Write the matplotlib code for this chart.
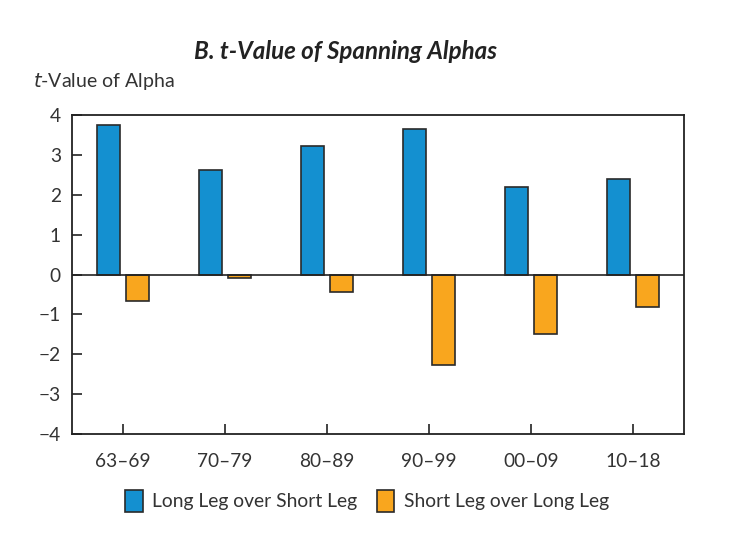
import numpy as np
import matplotlib
matplotlib.use("Agg")
import matplotlib.pyplot as plt

periods = ["63–69", "70–79", "80–89", "90–99", "00–09", "10–18"]
long_over_short = [3.76, 2.62, 3.23, 3.65, 2.20, 2.40]
short_over_long = [-0.67, -0.10, -0.44, -2.27, -1.48, -0.81]
series_names = ["Long Leg over Short Leg", "Short Leg over Long Leg"]
y_ticks = [-4, -3, -2, -1, 0, 1, 2, 3, 4]

blue = "#1490d0"
orange = "#f9a61e"
edge = "#2a2a2a"

plt.rcParams["font.family"] = ["Lato", "DejaVu Sans"]

fig = plt.figure(figsize=(7.4, 5.54), dpi=100)
ax = fig.add_axes([0.0973, 0.2166, 0.827, 0.5758])

x = np.arange(len(periods))
w = 0.225
off = 0.14
ax.bar(x - off, long_over_short, w, color=blue, edgecolor=edge, linewidth=1.2,
       label=series_names[0], zorder=3)
ax.bar(x + off, short_over_long, w, color=orange, edgecolor=edge, linewidth=1.2,
       label=series_names[1], zorder=3)
ax.axhline(0, color="#222222", linewidth=1.2, zorder=4)

ax.set_xlim(-0.5, len(periods) - 0.5)
ax.set_ylim(-4, 4)
ax.set_yticks(y_ticks)
ax.set_yticklabels([f"{v}".replace("-", "\u2212") for v in y_ticks])
ax.set_xticks(x)
ax.set_xticklabels(periods)
ax.tick_params(axis="both", direction="in", length=7, width=1.2, colors="#222222",
               labelsize=13.8, labelcolor="#333333")
ax.tick_params(axis="x", pad=14)
ax.tick_params(axis="y", pad=8)
for s in ax.spines.values():
    s.set_linewidth(1.3)
    s.set_color("#222222")

fig.text(0.467, 0.907, "B. t-Value of Spanning Alphas", ha="center", va="center",
         fontsize=17.4, fontweight="bold", fontstyle="italic", color="#222222")
fig.text(0.044, 0.852, r"$\it{t}$-Value of Alpha", ha="left", va="center",
         fontsize=14, color="#333333")

leg = fig.legend(loc="center", bbox_to_anchor=(0.496, 0.096), ncol=2, frameon=False,
                 fontsize=13.9, handlelength=0.9, handleheight=1.35,
                 handletextpad=0.5, columnspacing=1.0)
for t in leg.get_texts():
    t.set_color("#333333")

fig.savefig("out.png", dpi=100)
